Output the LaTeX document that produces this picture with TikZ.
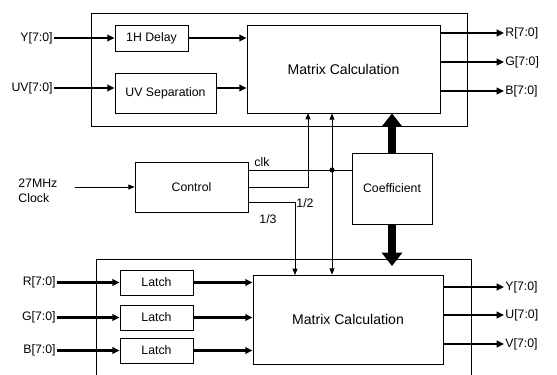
\documentclass[tikz,border=0pt]{standalone}
\usepackage{fontspec}
\setmainfont{Liberation Sans}
\usetikzlibrary{arrows.meta}

\begin{document}
\begin{tikzpicture}[
    x=0.03cm, y=-0.03cm,
    box/.style={draw, line width=0.7pt, font=\fontsize{10.5}{12}\selectfont, inner sep=1pt},
    lbl/.style={font=\fontsize{10.5}{12.5}\selectfont, inner sep=1pt},
    bus/.style={line width=2.4pt, -{Triangle[length=2.2mm,width=2mm]}},
    ctl/.style={line width=0.6pt, -{Triangle[length=1.9mm,width=1.5mm]}},
    fat/.style={line width=7pt, -{Triangle[length=4mm,width=6mm]}},
    frame/.style={line width=0.6pt}
]
    \useasboundingbox (0,0) rectangle (557,375);

    % upper section
    \draw[frame] (91,13) rectangle (467,126);
    \node[box, minimum width=2.19cm, minimum height=0.78cm] (delay) at (151.5,38) {1H Delay};
    \node[box, minimum width=3.03cm, minimum height=1.2cm] (sep) at (165.5,93) {UV Separation};
    \node[box, minimum width=5.79cm, minimum height=2.64cm,
          font=\fontsize{12}{14}\selectfont] (mtop) at (343.5,69) {Matrix Calculation};

    \node[lbl, anchor=east] (yin) at (54,38) {Y[7:0]};
    \node[lbl, anchor=east] (uvin) at (54,88) {UV[7:0]};
    \draw[bus] (yin.east) -- (delay.west);
    \draw[bus] (delay.east) -- (delay.east -| mtop.west);
    \draw[bus] (uvin.east) -- (uvin.east -| sep.west);
    \draw[bus] (sep.east |- uvin.east) -- (mtop.west |- uvin.east);

    \node[lbl, anchor=west] (rout) at (504,33) {R[7:0]};
    \node[lbl, anchor=west] (gout) at (504,62) {G[7:0]};
    \node[lbl, anchor=west] (bout) at (504,91) {B[7:0]};
    \foreach \o in {rout,gout,bout}
        \draw[bus] (mtop.east |- \o.west) -- (\o.west);

    % control and coefficient
    \node[box, minimum width=3.39cm, minimum height=1.5cm] (ctrl) at (191.5,187) {Control};
    \node[box, minimum width=2.4cm, minimum height=2.13cm] (coef) at (392,188.5) {Coefficient};
    \node[lbl, align=left, anchor=west] (clock) at (17,191) {27MHz\\Clock};
    \draw[ctl] (ctrl.west) ++(-60,0) -- (ctrl.west);

    \coordinate (clkrow) at (0,170);
    \coordinate (halfrow) at (0,187);
    \coordinate (thirdrow) at (0,202);
    \coordinate (jn) at (332,170);
    \draw[line width=0.6pt] (ctrl.east |- clkrow) -- (coef.west |- clkrow);
    \fill (jn) circle[radius=2.2pt];
    \draw[ctl] (jn) -- (jn |- mtop.south);
    \node[lbl, anchor=south west] (clklbl) at (253,168) {clk};
    \draw[ctl] (ctrl.east |- halfrow) -| (308,113);
    \node[lbl] (halflbl) at (305,203) {1/2};
    \draw[ctl] (ctrl.east |- thirdrow) -| (295,275);
    \node[lbl] (thirdlbl) at (268,219) {1/3};

    \coordinate (fattip) at (392,266);
    \draw[fat] (coef.north) -- (coef.north |- mtop.south);
    \draw[fat] (coef.south) -- (fattip);

    % lower section
    \draw[frame] (96,375) |- (471,259) -- (471,375);
    \node[box, minimum width=5.7cm, minimum height=2.67cm,
          font=\fontsize{12}{14}\selectfont] (mbot) at (348,319.5) {Matrix Calculation};
    \draw[ctl] (jn) -- (jn |- mbot.north);

    \foreach \n/\y/\t in {l1/282.5/R, l2/317.5/G, l3/350.5/B} {
        \node[box, minimum width=2.19cm, minimum height=0.75cm] (\n) at (156.5,\y) {Latch};
        \node[lbl, anchor=east] (\n in) at (57,\y) {\t[7:0]};
        \draw[bus] (\n in.east) -- (\n.west);
        \draw[bus] (\n.east) -- (\n.east -| mbot.west);
    }

    \node[lbl, anchor=west] (yout) at (504,287) {Y[7:0]};
    \node[lbl, anchor=west] (uout) at (504,315) {U[7:0]};
    \node[lbl, anchor=west] (vout) at (504,344) {V[7:0]};
    \foreach \o in {yout,uout,vout}
        \draw[bus] (mbot.east |- \o.west) -- (\o.west);
\end{tikzpicture}
\end{document}
